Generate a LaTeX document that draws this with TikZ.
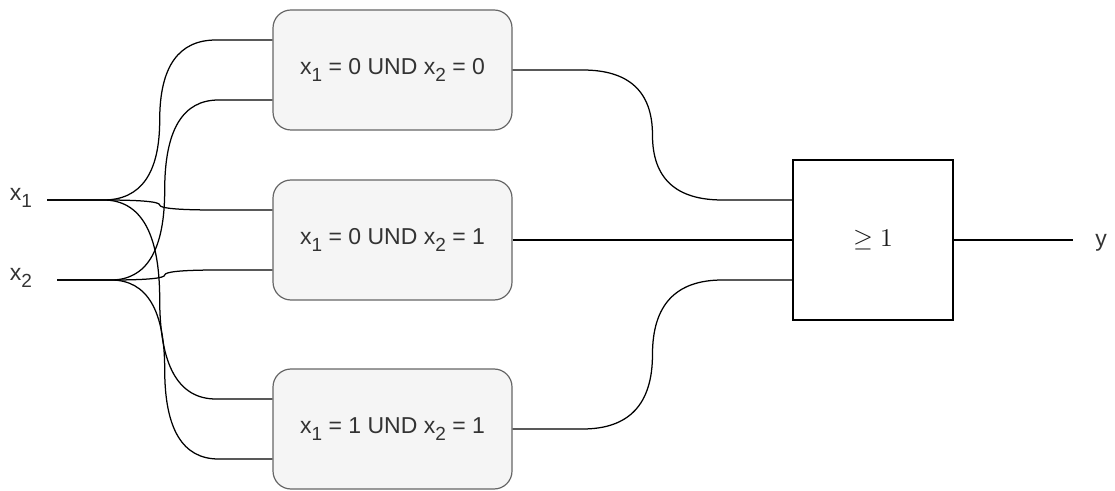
\documentclass[tikz,border=0pt]{standalone}
\usepackage{fontspec}
\setmainfont{Liberation Sans}
\usetikzlibrary{calc}
\definecolor{boxfill}{HTML}{F5F5F5}
\definecolor{boxline}{HTML}{666666}
\definecolor{boxtext}{HTML}{333333}
% lowered index, in the manner of an HTML subscript
\newcommand\lowidx[1]{\raisebox{-0.3em}{\fontsize{19}{20}\selectfont #1}}
\begin{document}
\begin{tikzpicture}[x=1pt,y=1pt,
  txt/.style={font=\fontsize{23}{28}\selectfont, text=boxtext},
  cond/.style={txt, draw=boxline, fill=boxfill, rounded corners=18pt,
    minimum width=239pt, minimum height=120pt, inner sep=0pt, line width=1.2pt},
  gate/.style={draw, line width=1.3pt, minimum width=160pt, minimum height=160pt,
    inner sep=0pt, text=black!90},
  lbl/.style={txt, inner sep=0pt},
  line/.style={line width=1.25pt},
  % orthogonal route with rounded bends: half-way horizontal, vertical, horizontal
  wire/.style={to path={
    let \p1=(\tikztostart), \p2=(\tikztotarget),
        \n1={(\x1+\x2)/2}, \n2={(\y1+\y2)/2} in
    -- ({(\x1+\n1)/2},\y1)
    .. controls ({(\x1+\n1)/2+(\n1-\x1)/3},\y1) and (\n1,{\n2+2*(\y1-\n2)/3}) .. (\n1,\n2)
    .. controls (\n1,{\n2+2*(\y2-\n2)/3}) and ({(\n1+\x2)/2-(\x2-\n1)/3},\y2) .. ({(\n1+\x2)/2},\y2)
    -- (\tikztotarget)}}
]
\useasboundingbox (0,0) rectangle (1115,490);

% condition boxes
\node[cond] (b1) at (392.5,420) {x\lowidx{1} = 0 UND x\lowidx{2} = 0};
\node[cond] (b2) at (392.5,250) {x\lowidx{1} = 0 UND x\lowidx{2} = 1};
\node[cond] (b3) at (392.5,61)  {x\lowidx{1} = 1 UND x\lowidx{2} = 1};

% OR gate
\node[gate] (or) at (873,250) {\scalebox{2.55}{$\geq 1$}};

% inputs and output
\node[lbl] (lx1) at (21,292.5) {x\lowidx{1}};
\node[lbl] (lx2) at (21,212.5) {x\lowidx{2}};
\node[lbl] (ly)  at (1101,247) {y};
\coordinate (x1) at (47,290);
\coordinate (x2) at (57,210);
\coordinate (yend) at (1073,250);

% ports
\coordinate (b1a) at ([yshift=30pt]b1.west);
\coordinate (b1b) at ([yshift=-30pt]b1.west);
\coordinate (b2a) at ([yshift=30pt]b2.west);
\coordinate (b2b) at ([yshift=-30pt]b2.west);
\coordinate (b3a) at ([yshift=30pt]b3.west);
\coordinate (b3b) at ([yshift=-30pt]b3.west);
\coordinate (g1) at ([yshift=40pt]or.west);
\coordinate (g2) at (or.west);
\coordinate (g3) at ([yshift=-40pt]or.west);

% wiring
\draw[line] (x1) to[wire] (b1a);
\draw[line] (x1) to[wire] (b2a);
\draw[line] (x1) to[wire] (b3a);
\draw[line] (x2) to[wire] (b1b);
\draw[line] (x2) to[wire] (b2b);
\draw[line] (x2) to[wire] (b3b);
\draw[line] (b1.east) to[wire] (g1);
\draw[line] (b2.east) -- (g2);
\draw[line] (b3.east) to[wire] (g3);
\draw[line] (or.east) -- (yend);
\end{tikzpicture}
\end{document}
